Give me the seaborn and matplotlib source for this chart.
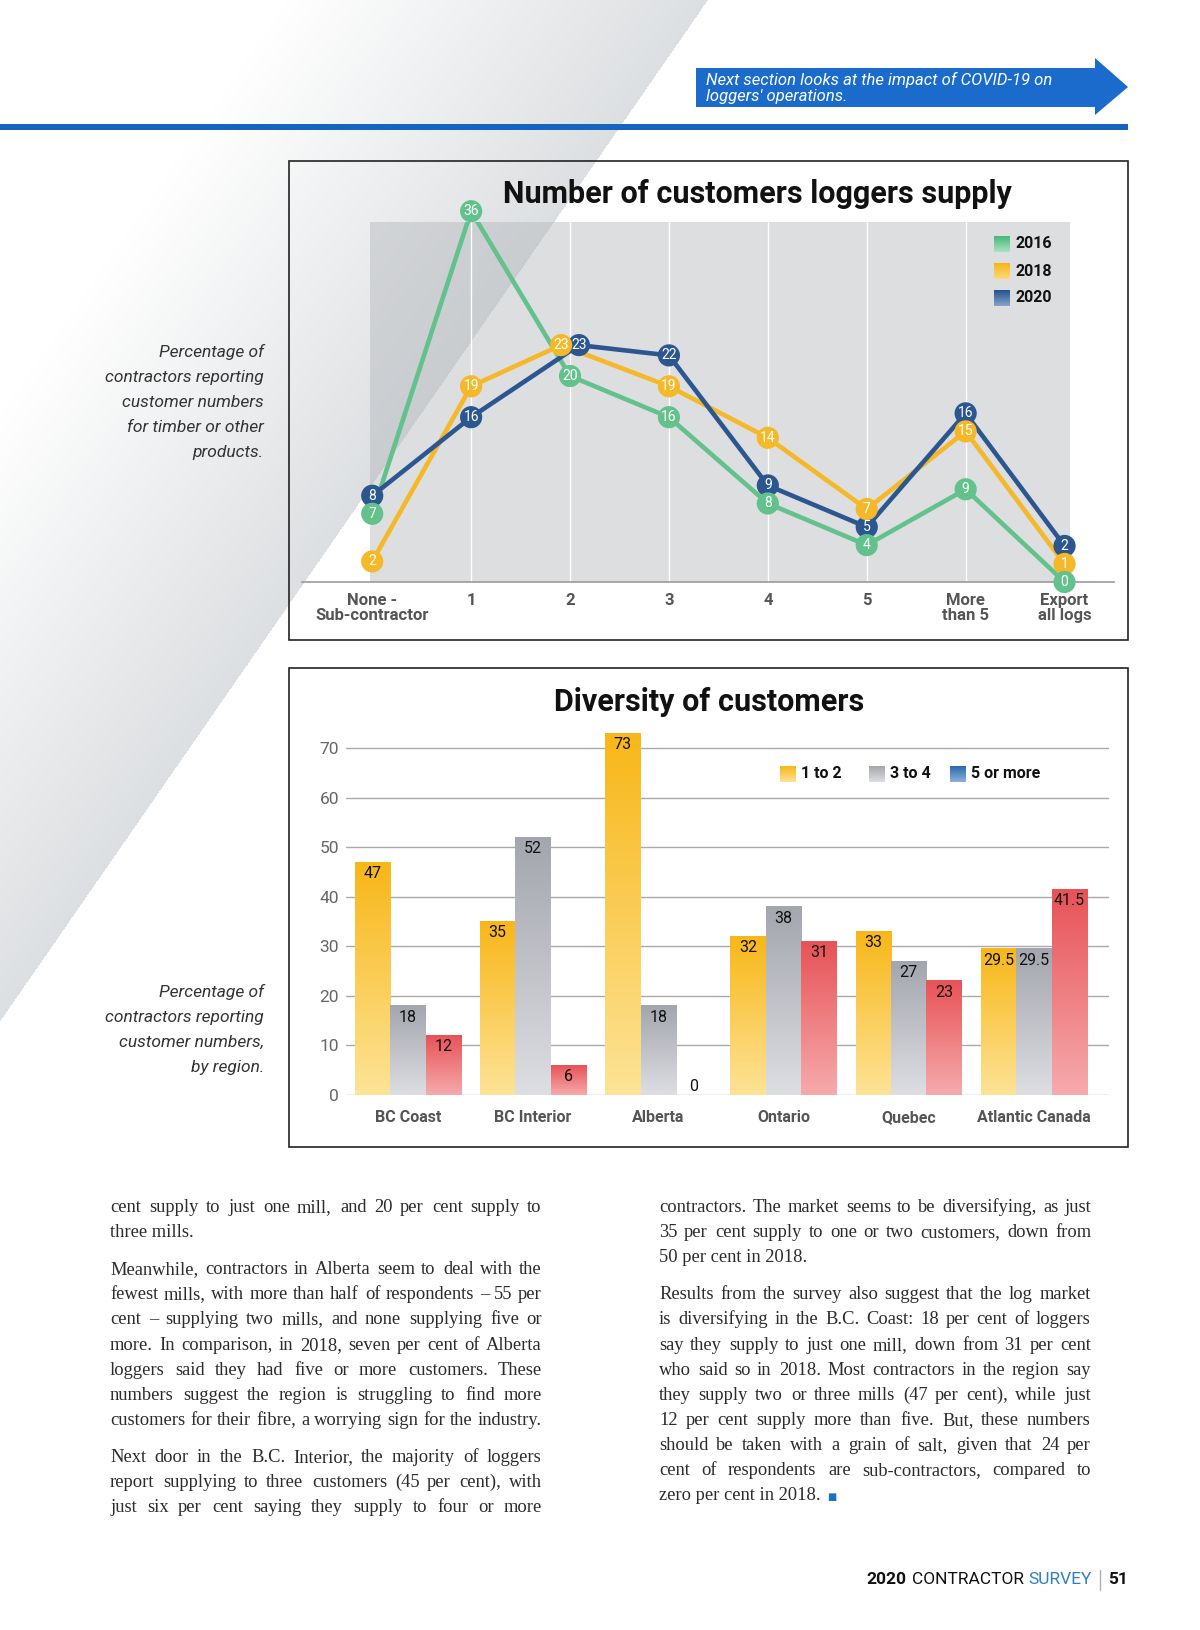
import numpy as np
import pandas as pd
import matplotlib
matplotlib.use('Agg')
import matplotlib.pyplot as plt
import seaborn as sns
from matplotlib.patches import Rectangle, Polygon
from matplotlib.colors import to_rgb

# --- data -------------------------------------------------------------
categories = ['None -\nSub-contractor', '1', '2', '3', '4', '5', 'More\nthan 5', 'Export\nall logs']
years = ['2016', '2018', '2020']
y2016 = [7, 36, 20, 16, 8, 4, 9, 0]
y2018 = [2, 19, 23, 19, 14, 7, 15, 1]
y2020 = [8, 16, 23, 22, 9, 5, 16, 2]

regions = ['BC Coast', 'BC Interior', 'Alberta', 'Ontario', 'Quebec', 'Atlantic Canada']
groups = ['1 to 2', '3 to 4', '5 or more']
one_to_two = [47, 35, 73, 32, 33, 29.5]
three_to_four = [18, 52, 18, 38, 27, 29.5]
five_or_more = [12, 6, 0, 31, 23, 41.5]

left_col = [
    ['cent supply to just one mill, and 20 per cent supply to',
     'three mills.'],
    ['Meanwhile, contractors in Alberta seem to deal with the',
     'fewest mills, with more than half of respondents \u2013 55 per',
     'cent \u2013 supplying two mills, and none supplying five or',
     'more. In comparison, in 2018, seven per cent of Alberta',
     'loggers said they had five or more customers. These',
     'numbers suggest the region is struggling to find more',
     'customers for their fibre, a worrying sign for the industry.'],
    ['Next door in the B.C. Interior, the majority of loggers',
     'report supplying to three customers (45 per cent), with',
     'just six per cent saying they supply to four or more'],
]
right_col = [
    ['contractors. The market seems to be diversifying, as just',
     '35 per cent supply to one or two customers, down from',
     '50 per cent in 2018.'],
    ['Results from the survey also suggest that the log market',
     'is diversifying in the B.C. Coast: 18 per cent of loggers',
     'say they supply to just one mill, down from 31 per cent',
     'who said so in 2018. Most contractors in the region say',
     'they supply two or three mills (47 per cent), while just',
     '12 per cent supply more than five. But, these numbers',
     'should be taken with a grain of salt, given that 24 per',
     'cent of respondents are sub-contractors, compared to',
     'zero per cent in 2018.'],
]

# --- colours ----------------------------------------------------------
line_colors = {'2016': '#63c28c', '2018': '#f5b829', '2020': '#2b5690'}
line_grads = [('#45b878', '#aee1c2'), ('#f6b419', '#fcd97c'), ('#24528e', '#86a3cb')]
bar_grads = [('#f8b719', '#fde396'), ('#a4a6ae', '#dddee2'), ('#e75357', '#f6aaac')]
legend_grads = [bar_grads[0], bar_grads[1], ('#2a69b0', '#8cb0da')]

sns.set_style('white')
plt.rcParams['font.family'] = ['Roboto', 'DejaVu Sans']

W, H = 1200, 1630
fig = plt.figure(figsize=(12, 16.3), dpi=100, facecolor='white')


def px_axes(x0, y0, x1, y1):
    return fig.add_axes([x0 / W, 1 - y1 / H, (x1 - x0) / W, (y1 - y0) / H])


def grad_rect(ax, x0, x1, y_bottom, y_top, top, bottom, z=3):
    g = np.linspace(0, 1, 64)[:, None, None]
    c = (1 - g) * np.array(to_rgb(top)) + g * np.array(to_rgb(bottom))
    ax.imshow(c, extent=(x0, x1, y_bottom, y_top), origin='upper',
              aspect='auto', zorder=z, interpolation='bilinear')


# page background with the diagonal grey band
bg = px_axes(0, 0, W, H)
yy, xx = np.mgrid[0:H, 0:W] + 0.5
d = (708 - 0.693 * yy) - xx
t = np.clip(1 - d / 420, 0, 1)
t[d < 0] = 0
gray = np.array([0.865, 0.875, 0.885])
bg.imshow(1 - t[..., None] * (1 - gray), extent=(0, W, H, 0), aspect='auto')
bg.set_xlim(0, W)
bg.set_ylim(H, 0)
bg.axis('off')
bg.set_zorder(0)

# --- line chart: number of customers ------------------------------------
# markers that would sit on top of each other are nudged apart
# (equal values sideways, close values vertically), as in the printed chart
series = {'2016': y2016, '2018': y2018, '2020': y2020}
min_gap = 1.75
rows = []
for i in range(len(categories)):
    xs, ys = {}, {}
    for yr in years:
        v = series[yr][i]
        twins = [y for y in years if series[y][i] == v]
        xs[yr] = i + (0 if len(twins) == 1 else np.linspace(-0.09, 0.09, len(twins))[twins.index(yr)])
        ys[yr] = float(v)
    order = sorted(years, key=lambda y: series[y][i])
    for _ in range(100):
        for a, b in zip(order[:-1], order[1:]):
            if series[a][i] == series[b][i]:
                continue
            diff = ys[b] - ys[a]
            if diff < min_gap:
                ys[a] -= (min_gap - diff) / 2
                ys[b] += (min_gap - diff) / 2
        low = min(0.0, min(ys.values()))
        for y in years:
            ys[y] -= low
    for yr in years:
        rows.append({'x': xs[yr], 'pos': ys[yr], 'value': series[yr][i], 'year': yr})
df_top = pd.DataFrame(rows)

ax1 = px_axes(302, 221.5, 1114, 582)
ax1.set_zorder(2)
ax1.set_facecolor('none')
ax1.axvspan(-0.02, 7.06, color='#b3b6bb', alpha=0.45, lw=0, zorder=0)
for i in range(1, len(categories) - 1):
    ax1.axvline(i, color='white', lw=1.0, zorder=1)

sns.lineplot(data=df_top, x='x', y='pos', hue='year', hue_order=years,
             palette=line_colors, linewidth=3.3, estimator=None, sort=False,
             legend=False, ax=ax1, zorder=3)
df_marks = df_top.sort_values('year', ascending=False, kind='stable')
sns.scatterplot(data=df_marks, x='x', y='pos', hue='year', hue_order=years,
                palette=line_colors, s=255, edgecolor='none', linewidth=0,
                legend=False, ax=ax1, zorder=4, clip_on=False)
for _, r in df_marks.iterrows():
    ax1.text(r['x'], r['pos'], f"{r['value']:g}", ha='center', va='center',
             color='white', fontsize=10, zorder=5, clip_on=False)

ax1.set_xlim(-0.71, 7.5)
ax1.set_ylim(0, 35)
ax1.set_xticks(range(len(categories)))
ax1.set_xticklabels(categories, linespacing=0.95)
ax1.set_yticks([])
ax1.set_xlabel('')
ax1.set_ylabel('')
for s in ['top', 'left', 'right']:
    ax1.spines[s].set_visible(False)
ax1.spines['bottom'].set_color('#9a9a9a')
ax1.spines['bottom'].set_linewidth(1.2)
ax1.tick_params(axis='x', length=0, pad=8, labelsize=12, labelcolor='#555555')
for lbl in ax1.get_xticklabels():
    lbl.set_fontweight('bold')

# --- bar chart: diversity of customers ----------------------------------
df_bar = pd.DataFrame({
    'region': regions * 3,
    'group': [g for g in groups for _ in regions],
    'value': one_to_two + three_to_four + five_or_more,
})

ax2 = px_axes(346, 723.2, 1109, 1095)
ax2.set_zorder(2)
ax2.set_facecolor('none')
sns.barplot(data=df_bar, x='region', y='value', hue='group', hue_order=groups,
            order=regions, palette=[c[0] for c in bar_grads], width=0.85,
            saturation=1, errorbar=None, legend=False, ax=ax2)
for cont, (ctop, cbot) in zip(ax2.containers, bar_grads):
    for bar in cont:
        bar.set_facecolor('none')
        bar.set_edgecolor('none')
        h = bar.get_height()
        if h > 0:
            grad_rect(ax2, bar.get_x(), bar.get_x() + bar.get_width(), 0, h, ctop, cbot)
for cont in ax2.containers:
    for bar, v in zip(cont, cont.datavalues):
        ylab = v - 2.3 if v > 3 else v + 1.8
        ax2.text(bar.get_x() + bar.get_width() / 2, ylab, f'{v:g}', ha='center',
                 va='center', fontsize=11.5, color='#111111', zorder=5)

ax2.set_xlim(-0.495, 5.6)
ax2.set_ylim(0, 75)
ax2.set_yticks(range(0, 71, 10))
ax2.yaxis.grid(True, color='#a9a9a9', lw=1)
ax2.set_axisbelow(True)
ax2.set_xlabel('')
ax2.set_ylabel('')
sns.despine(ax=ax2, left=True, bottom=True)
ax2.tick_params(axis='y', length=0, pad=5, labelsize=12.5, labelcolor='#666666')
ax2.tick_params(axis='x', length=0, pad=11, labelsize=11.5, labelcolor='#555555')
for lbl in ax2.get_xticklabels():
    lbl.set_fontweight('bold')

# --- overlay: header, boxes, titles, legends, text -----------------------
fg = px_axes(0, 0, W, H)
fg.set_zorder(5)
fg.patch.set_alpha(0)

fg.add_patch(Rectangle((0, 124), 1128, 6, color='#1565c0', lw=0))
fg.add_patch(Polygon([(696, 68), (1095, 68), (1095, 58), (1128, 87), (1095, 115),
                      (1095, 107), (696, 107)], closed=True, color='#1a6bcb', lw=0))
fg.text(706, 80, 'Next section looks at the impact of COVID-19 on', color='white',
        fontsize=12, style='italic', va='center')
fg.text(706, 97, "loggers' operations.", color='white', fontsize=12,
        style='italic', va='center')

fg.add_patch(Rectangle((289, 161), 839, 479, fill=False, ec='#222222', lw=1.2))
fg.add_patch(Rectangle((289, 668), 839, 479, fill=False, ec='#222222', lw=1.2))
fg.text(757, 194, 'Number of customers loggers supply', ha='center', va='center',
        fontsize=22, fontweight='bold', color='#111111')
fg.text(709, 702, 'Diversity of customers', ha='center', va='center',
        fontsize=22, fontweight='bold', color='#111111')

for i, (yr, (ct, cb)) in enumerate(zip(years, line_grads)):
    yc = 244 + 27 * i
    grad_rect(fg, 994, 1010, yc + 8, yc - 8, ct, cb, z=6)
    fg.text(1016, yc, yr, va='center', fontsize=11.5, fontweight='bold', color='#111111')

for g, (ct, cb), xp in zip(groups, legend_grads, [780, 869, 950]):
    grad_rect(fg, xp, xp + 16, 782, 766, ct, cb, z=6)
    fg.text(xp + 21, 774, g, va='center', fontsize=11.5, fontweight='bold', color='#111111')

note1 = ['Percentage of', 'contractors reporting', 'customer numbers',
         'for timber or other', 'products.']
note2 = ['Percentage of', 'contractors reporting', 'customer numbers,', 'by region.']
for i, s in enumerate(note1):
    fg.text(264, 352 + 25.2 * i, s, ha='right', va='center', fontsize=12.5,
            style='italic', color='#333333')
for i, s in enumerate(note2):
    fg.text(264, 992 + 25.2 * i, s, ha='right', va='center', fontsize=12.5,
            style='italic', color='#333333')

renderer = fig.canvas.get_renderer()


def text_w(s, **kw):
    tt = fg.text(0, 0, s, **kw)
    w = tt.get_window_extent(renderer).width
    tt.remove()
    return w


# body text, justified columns (full lines are set word by word)
body_kw = dict(family='Liberation Serif', color='#2b2b2b', va='baseline')
colw = 432
all_lines = [l for col in (left_col, right_col) for par in col for l in par]
size = 13.5
while max(text_w(l, fontsize=size, **body_kw) for l in all_lines) > colw - 2:
    size -= 0.05
body_kw['fontsize'] = size

last_end = None
for x0, paras in [(110, left_col), (659, right_col)]:
    y = 1207
    for par in paras:
        for line in par:
            yb = round(y + 5)
            natural = text_w(line, **body_kw)
            if natural > 0.85 * colw:
                words = line.split(' ')
                widths = [text_w(w_, **body_kw) for w_ in words]
                gap = (colw - sum(widths)) / (len(words) - 1)
                x = x0
                for w_, wd in zip(words, widths):
                    fg.text(round(x), yb, w_, **body_kw)
                    x += wd + gap
            else:
                fg.text(x0, yb, line, **body_kw)
            last_end = (x0 + natural, yb)
            y += 25.05
        y += 12.3
fg.text(last_end[0] + 7, last_end[1], '\u25a0', family='DejaVu Sans',
        fontsize=7, color='#1f6fc5', va='baseline')

# footer
fy = 1580
fx = 1128
fkw = dict(va='center', fontsize=12.5)
fg.text(fx, fy, '51', ha='right', fontweight='bold', color='#111111', **fkw)
fx -= text_w('51', fontweight='bold', **fkw) + 8
fg.plot([fx, fx], [fy - 10, fy + 10], color='#b0b0b0', lw=1)
fx -= 8
for s, c, wt in [('SURVEY', '#2f7fc1', 'normal'), ('CONTRACTOR', '#111111', 'normal'),
                 ('2020', '#111111', 'bold')]:
    fg.text(fx, fy, s, ha='right', color=c, fontweight=wt, **fkw)
    fx -= text_w(s, fontweight=wt, **fkw) + 5

fg.set_xlim(0, W)
fg.set_ylim(H, 0)
fg.axis('off')

fig.savefig('out.png', dpi=100)
